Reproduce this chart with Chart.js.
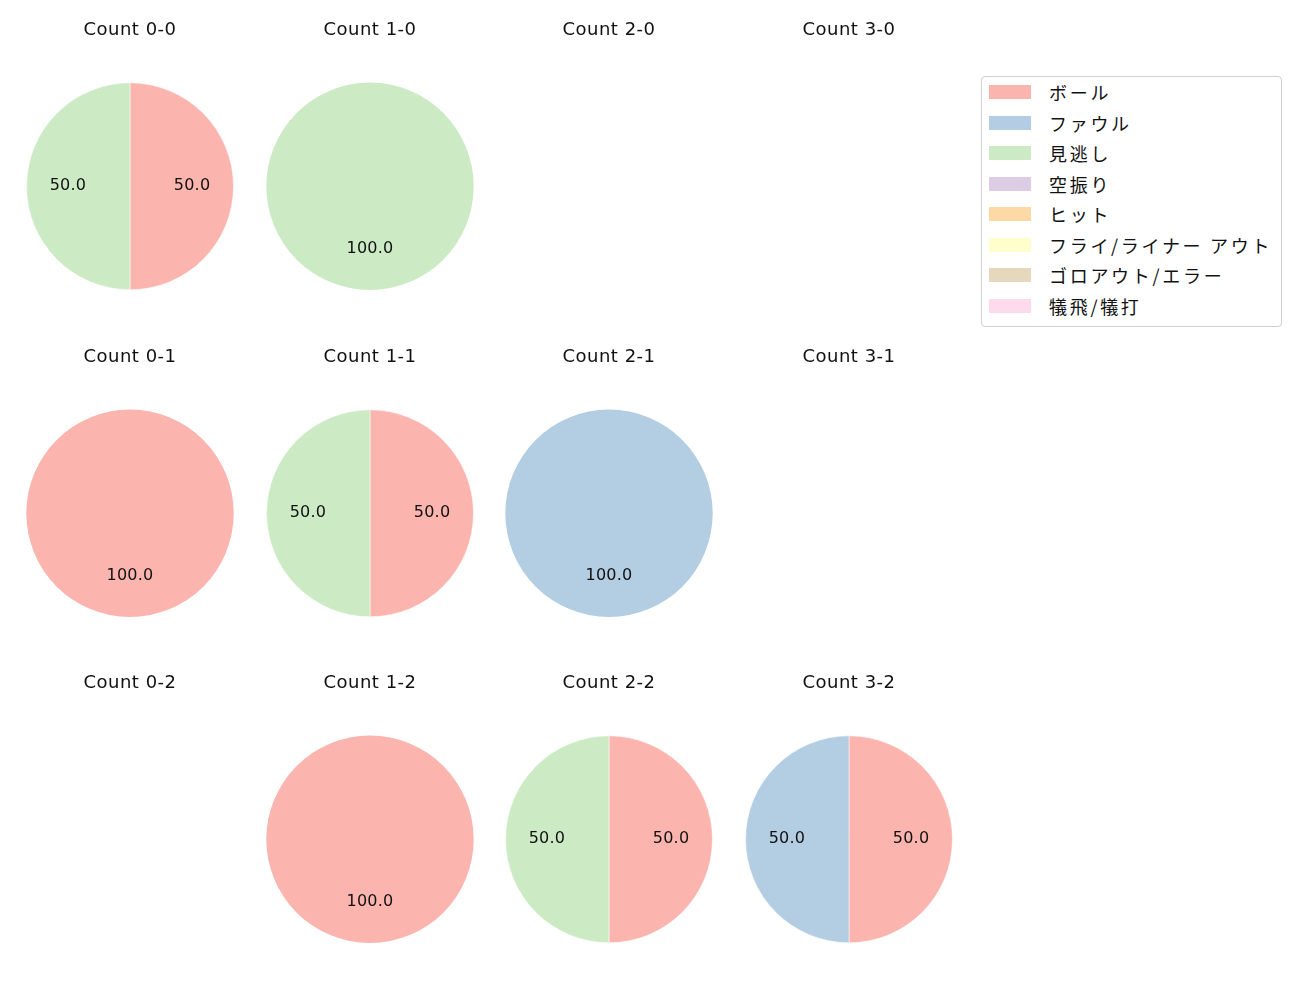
<!DOCTYPE html>
<html>
<head>
<meta charset="utf-8">
<script src="https://cdn.jsdelivr.net/npm/chart.js@4.4.0/dist/chart.umd.min.js"></script>
<style>
  body { margin: 0; background: #fff; width: 1300px; height: 1000px; position: relative; overflow: hidden; font-family: "DejaVu Sans", "Noto Sans CJK JP", sans-serif; }
  .cell { position: absolute; width: 240px; height: 274px; }
  #legend { position: absolute; left: 981px; top: 76px; width: 301px; height: 251px; border: 1px solid #d0d0d0; border-radius: 4px; box-sizing: border-box; }
  .row { position: absolute; left: 7px; height: 20px; display: flex; align-items: center; font-family: "Noto Sans CJK JP", sans-serif; font-size: 18px; letter-spacing: 2.7px; color: #111; white-space: nowrap; }
  .sw { width: 42px; height: 14px; margin-right: 18px; }
</style>
</head>
<body>
<div id="legend"></div>

<script>
// pitch outcomes, one array per outcome, indexed by count
const categories = ["ボール", "ファウル", "見逃し", "空振り", "ヒット", "フライ/ライナー アウト", "ゴロアウト/エラー", "犠飛/犠打"];
const colors = ["#fbb4ae", "#b3cde3", "#ccebc5", "#decbe4", "#fed9a6", "#ffffcc", "#e5d8bd", "#fddaec"];
const countLabels = ["0-0", "1-0", "2-0", "3-0", "0-1", "1-1", "2-1", "3-1", "0-2", "1-2", "2-2", "3-2"];

const ball      = [1, 0, 0, 0, 1, 1, 0, 0, 0, 1, 1, 1];
const foul      = [0, 0, 0, 0, 0, 0, 1, 0, 0, 0, 0, 1];
const looking   = [1, 1, 0, 0, 0, 1, 0, 0, 0, 0, 1, 0];
const swinging  = [0, 0, 0, 0, 0, 0, 0, 0, 0, 0, 0, 0];
const hit       = [0, 0, 0, 0, 0, 0, 0, 0, 0, 0, 0, 0];
const flyLiner  = [0, 0, 0, 0, 0, 0, 0, 0, 0, 0, 0, 0];
const groundErr = [0, 0, 0, 0, 0, 0, 0, 0, 0, 0, 0, 0];
const sacrifice = [0, 0, 0, 0, 0, 0, 0, 0, 0, 0, 0, 0];

const series = [ball, foul, looking, swinging, hit, flyLiner, groundErr, sacrifice];

// slightly wider text spacing for the titles
const spacing = {
  id: "spacing",
  beforeDraw(chart) { chart.ctx.letterSpacing = "0.5px"; }
};

// percent labels inside the slices
const pctLabels = {
  id: "pctLabels",
  afterDatasetsDraw(chart) {
    const ctx = chart.ctx;
    const meta = chart.getDatasetMeta(0);
    const vals = chart.data.datasets[0].data;
    const total = vals.reduce((a, b) => a + b, 0);
    if (!total) return;
    ctx.save();
    ctx.font = "16px 'DejaVu Sans', sans-serif";
    ctx.letterSpacing = "0.2px";
    ctx.fillStyle = "#111";
    ctx.textAlign = "center";
    ctx.textBaseline = "middle";
    meta.data.forEach((arc, i) => {
      if (!vals[i]) return;
      const p = arc.getProps(["x", "y", "startAngle", "endAngle", "outerRadius"], true);
      const mid = (p.startAngle + p.endAngle) / 2;
      const r = p.outerRadius * 0.6;
      ctx.fillText((vals[i] / total * 100).toFixed(1), p.x + Math.cos(mid) * r, p.y + Math.sin(mid) * r);
    });
    ctx.restore();
  }
};

countLabels.forEach((lab, k) => {
  const col = k % 4, row = Math.floor(k / 4);
  const cx = 130 + 239.7 * col, cy = 186 + 326.5 * row;
  const div = document.createElement("div");
  div.className = "cell";
  div.style.left = (cx - 120) + "px";
  div.style.top = (cy - 170) + "px";
  const cv = document.createElement("canvas");
  div.appendChild(cv);
  document.body.appendChild(div);

  const vals = series.map(s => s[k]);
  const nonZero = vals.filter(v => v > 0).length;

  new Chart(cv, {
    type: "pie",
    data: {
      labels: categories,
      datasets: [{
        data: vals,
        backgroundColor: colors,
        borderColor: "#ffffff",
        borderWidth: nonZero > 1 ? 0.5 : 0
      }]
    },
    options: {
      responsive: true,
      maintainAspectRatio: false,
      animation: false,
      layout: { padding: 0 },
      plugins: {
        legend: { display: false },
        tooltip: { enabled: false },
        title: {
          display: true,
          text: "Count " + lab,
          color: "#111",
          font: { family: "'DejaVu Sans', sans-serif", size: 18, weight: "normal" },
          padding: { top: 4, bottom: 41 }
        }
      }
    },
    plugins: [spacing, pctLabels]
  });
});

// legend
const leg = document.getElementById("legend");
categories.forEach((c, i) => {
  const r = document.createElement("div");
  r.className = "row";
  r.style.top = (5 + i * 30.5) + "px";
  r.innerHTML = '<span class="sw" style="background:' + colors[i] + '"></span>' + c;
  leg.appendChild(r);
});
</script>
</body>
</html>
